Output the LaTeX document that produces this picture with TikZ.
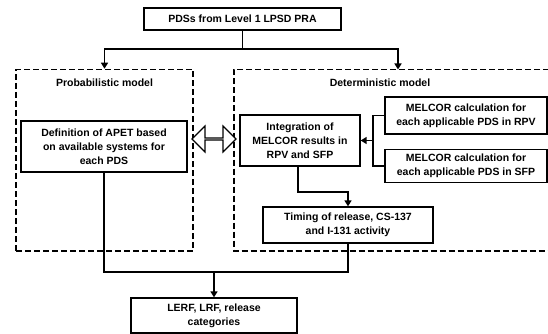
\documentclass[tikz,border=0pt]{standalone}
\usepackage{fontspec}
\setmainfont{Liberation Sans}
\usetikzlibrary{arrows.meta,shapes.arrows}
\tikzset{
  box/.style={draw, line width=1.3pt, fill=white, align=center, inner sep=1pt,
    font=\fontsize{10.5}{14}\selectfont\bfseries},
  dashbox/.style={draw, line width=1.6pt, dash pattern=on 6pt off 3pt},
  title/.style={font=\fontsize{10.5}{14}\selectfont\bfseries, inner sep=0pt},
  conn/.style={line width=1.8pt},
  arr/.style={conn, -{Triangle[width=7pt,length=6pt]}},
}
\begin{document}
\begin{tikzpicture}[x=1pt,y=-1pt]
\useasboundingbox (0,0) rectangle (548,334);
% dashed regions
\node[dashbox, minimum width=177pt, minimum height=181.5pt, inner sep=0pt] (prob) at (104.5,160.25) {};
\draw[dashbox] (549,69.5) -- (234,69.5) -- (234,251) -- (549,251);
\coordinate (dettop) at (398,69.5);
\node[title] (probt) at (104.5,83) {Probabilistic model};
\node[title] (dett) at (380,83) {Deterministic model};
% boxes
\node[box, minimum width=197pt, minimum height=22pt] (top) at (242.5,19) {PDSs from Level 1 LPSD PRA};
\node[box, minimum width=166pt, minimum height=51pt] (def) at (104,146.5) {Definition of APET based\\on available systems for\\each PDS};
\node[box, minimum width=120pt, minimum height=51pt] (integ) at (300,140.5) {Integration of\\MELCOR results in\\RPV and SFP};
\node[box, minimum width=162pt, minimum height=37pt] (rpv) at (466,115.5) {MELCOR calculation for\\each applicable PDS in RPV};
\node[box, minimum width=162pt, minimum height=33pt] (sfp) at (466,166) {MELCOR calculation for\\each applicable PDS in SFP};
\node[box, minimum width=170pt, minimum height=36pt] (timing) at (348,225) {Timing of release, CS-137\\and I-131 activity};
\node[box, minimum width=166pt, minimum height=35pt] (lerf) at (214,315.5) {LERF, LRF, release\\categories};
% double arrow
\node[double arrow, draw, line width=1.2pt, fill=white, minimum height=44pt, minimum width=26pt,
  double arrow head extend=8pt, inner sep=0pt] (dbl) at (214,139) {};
% connectors
\coordinate (split) at (242.5,49);
\draw[conn] (top.south) -- (split);
\draw[arr] (split) -| (prob.north);
\draw[arr] (split) -| (dettop);
\coordinate (brk) at (373,140.5);
\draw[line width=1.3pt] (rpv.west) -| (brk) |- (sfp.west);
\draw[arr] (brk) -- (integ.east);
\coordinate (elbow) at (298,192);
\draw[arr] (integ.south -| elbow) -- (elbow) -| (timing.north);
\coordinate (join) at (214,272);
\draw[conn] (def.south) |- (join) -| (timing.south);
\draw[arr] (join) -- (lerf.north);
\end{tikzpicture}
\end{document}
